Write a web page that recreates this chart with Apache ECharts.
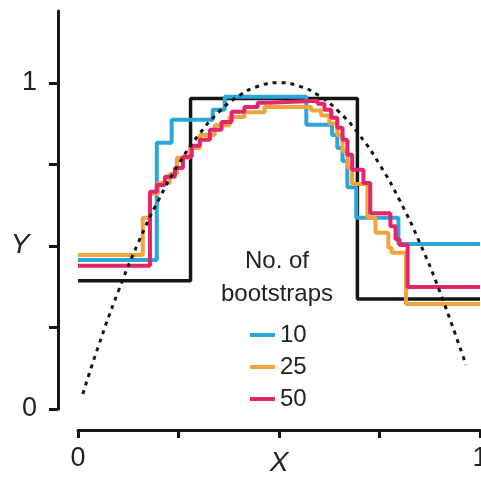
<!DOCTYPE html>
<html>
<head>
<meta charset="utf-8">
<script src="https://cdn.jsdelivr.net/npm/echarts@6/dist/echarts.min.js"></script>
<style>
    html, body { margin: 0; padding: 0; background: #fff; }
    #chart { width: 481px; height: 479px; }
</style>
</head>
<body>
<div id="chart"></div>
<script>
/* ===== 数据 ===== */
const xTicks = [0, 0.25, 0.5, 0.75, 1];
const yTicks = [0, 0.25, 0.5, 0.75, 1];
const xLabels = [0, 1];
const yLabels = [0, 1];

// true function (dotted)
const curveX = [0.012, 0.05, 0.1, 0.15, 0.2, 0.25, 0.3, 0.35, 0.4, 0.45, 0.5, 0.55, 0.6, 0.65, 0.7, 0.75, 0.8, 0.85, 0.9, 0.965];
const curveY = [0.046, 0.19, 0.36, 0.51, 0.64, 0.75, 0.84, 0.91, 0.96, 0.99, 1.0, 0.99, 0.96, 0.91, 0.84, 0.75, 0.64, 0.51, 0.36, 0.135];

// single tree (black step)
const treeX = [0, 0.28, 0.695, 1];
const treeY = [0.393, 0.952, 0.337, 0.337];

// 10 bootstraps
const b10X = [0, 0.196, 0.233, 0.335, 0.365, 0.568, 0.632, 0.645, 0.658, 0.67, 0.692, 0.797, 1];
const b10Y = [0.457, 0.816, 0.887, 0.917, 0.957, 0.871, 0.84, 0.80, 0.76, 0.68, 0.586, 0.506, 0.506];

// 25 bootstraps
const b25X = [0, 0.161, 0.179, 0.199, 0.228, 0.246, 0.278, 0.303, 0.34, 0.377, 0.414, 0.464, 0.58, 0.605, 0.625, 0.645, 0.658, 0.67, 0.682, 0.72, 0.74, 0.772, 0.78, 0.816, 1];
const b25Y = [0.472, 0.586, 0.66, 0.693, 0.72, 0.77, 0.80, 0.84, 0.87, 0.895, 0.91, 0.926, 0.915, 0.90, 0.875, 0.84, 0.79, 0.74, 0.69, 0.586, 0.54, 0.494, 0.479, 0.322, 0.322];

// 50 bootstraps
const b50X = [0, 0.179, 0.196, 0.216, 0.241, 0.261, 0.283, 0.303, 0.328, 0.357, 0.382, 0.414, 0.447, 0.476, 0.596, 0.613, 0.63, 0.645, 0.658, 0.67, 0.682, 0.71, 0.727, 0.777, 0.79, 0.80, 0.82, 1];
const b50Y = [0.439, 0.666, 0.687, 0.712, 0.739, 0.773, 0.807, 0.825, 0.856, 0.88, 0.911, 0.926, 0.939, 0.945, 0.936, 0.917, 0.893, 0.862, 0.825, 0.779, 0.733, 0.693, 0.60, 0.56, 0.52, 0.503, 0.374, 0.374];

const legendNames = ["10", "25", "50"];
const colors = { b10: "#2ba6d9", b25: "#f1a43b", b50: "#e5256b", ink: "#151515" };

function zip(xs, ys) {
    return xs.map((x, i) => [x, ys[i]]);
}

/* ===== 图表 ===== */
const chart = echarts.init(document.getElementById("chart"));
const font = "'Liberation Sans', Arial, sans-serif";

function stepSeries(name, xs, ys, color, width) {
    return {
        name: name,
        type: "line",
        step: "end",
        data: zip(xs, ys),
        showSymbol: false,
        symbol: "none",
        lineStyle: { color: color, width: width },
        itemStyle: { color: color },
        animation: false,
    };
}

chart.setOption({
    animation: false,
    title: {
        text: "No. of\nbootstraps",
        left: 277,
        top: 245,
        textAlign: "center",
        padding: 0,
        textStyle: { fontFamily: font, fontWeight: "normal", fontSize: 24, lineHeight: 33, color: "#222" },
    },
    legend: {
        data: legendNames,
        orient: "vertical",
        left: 250,
        top: 323,
        icon: "rect",
        itemWidth: 25,
        itemHeight: 4,
        itemGap: 8,
        padding: 0,
        textStyle: { fontFamily: font, fontSize: 24, lineHeight: 24, color: "#222" },
    },
    // Y label sits at y = 0.5, not at the middle of the axis, so it is drawn by hand
    graphic: [{
        type: "text",
        x: 20,
        y: 245,
        style: { text: "Y", align: "center", verticalAlign: "middle", font: "italic 28px " + font, fill: "#222" },
    }],
    grid: { left: 78, right: 1, top: 11, bottom: 70, containLabel: false, outerBoundsMode: "none" },
    xAxis: {
        type: "value",
        min: 0,
        max: 1,
        interval: 0.25,
        offset: 21,
        name: "X",
        nameLocation: "middle",
        nameGap: 19,
        nameMoveOverlap: false,
        nameTextStyle: { fontFamily: font, fontStyle: "italic", fontSize: 28, color: "#222" },
        splitLine: { show: false },
        axisLine: { onZero: false, lineStyle: { color: colors.ink, width: 3 } },
        axisTick: { length: 8, lineStyle: { color: colors.ink, width: 3 }, customValues: xTicks },
        axisLabel: { fontFamily: font, fontSize: 27, color: "#222", margin: 15, customValues: xLabels },
    },
    yAxis: {
        type: "value",
        min: 0,
        max: 1.22,
        interval: 0.25,
        offset: 20,
        splitLine: { show: false },
        axisLine: { onZero: false, lineStyle: { color: colors.ink, width: 3 } },
        axisTick: { length: 9, lineStyle: { color: colors.ink, width: 3 }, customValues: yTicks },
        axisLabel: { fontFamily: font, fontSize: 27, color: "#222", margin: 21, customValues: yLabels },
    },
    series: [
        stepSeries("tree", treeX, treeY, colors.ink, 3.5),
        stepSeries("10", b10X, b10Y, colors.b10, 4),
        stepSeries("25", b25X, b25Y, colors.b25, 4),
        stepSeries("50", b50X, b50Y, colors.b50, 4),
        {
            name: "truth",
            type: "line",
            smooth: true,
            data: zip(curveX, curveY),
            symbol: "none",
            lineStyle: { color: colors.ink, width: 3, type: [4, 5] },
            animation: false,
        },
    ],
});
</script>
</body>
</html>
